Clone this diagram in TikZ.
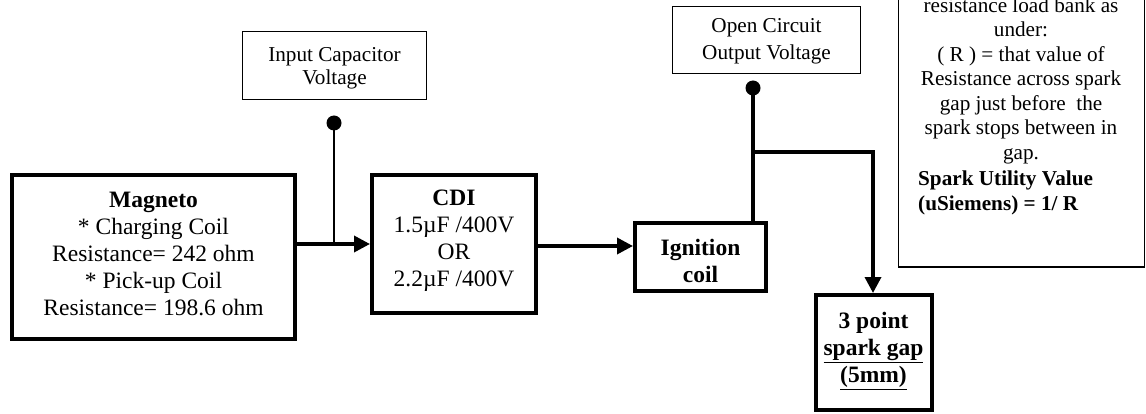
\documentclass[tikz,border=0pt]{standalone}
\usepackage{fontspec}
\setmainfont{Liberation Serif}
\usetikzlibrary{arrows.meta,calc}
\begin{document}
\begin{tikzpicture}[x=1pt,y=-1pt,
  bigtext/.style={font=\fontsize{23.5}{27}\selectfont},
  smalltext/.style={font=\fontsize{21.2}{24.5}\selectfont},
  thickbox/.style={draw,line width=4pt,inner sep=0pt},
  thinbox/.style={draw,line width=1.5pt,inner sep=0pt},
  txt/.style={inner sep=0pt,align=center},
  flow/.style={line width=3.5pt,-{Triangle[length=16pt,width=16pt]}},
  wire/.style={line width=3.5pt},
  thinwire/.style={line width=1.5pt},
  dotnode/.style={circle,fill,inner sep=0pt,minimum size=15pt}
]
\useasboundingbox (0,0) rectangle (1146,414);
% boxes
\node[thickbox,minimum width=283pt,minimum height=164pt] (mag) at (153.5,257) {};
\node[txt,bigtext] (magtxt) at (153.5,254) {\textbf{Magneto}\\* Charging Coil\\Resistance= 242 ohm\\* Pick-up Coil\\Resistance= 198.6 ohm};
\node[thickbox,minimum width=164pt,minimum height=138pt] (cdi) at (454,244) {};
\node[txt,bigtext] (cditxt) at (454,241) {\textbf{CDI}\\1.5µF /400V\\OR\\2.2µF /400V};
\node[thickbox,minimum width=131pt,minimum height=68pt] (ign) at (700.5,257) {};
\node[txt,bigtext] (igntxt) at (700.5,261) {\textbf{Ignition}\\\textbf{coil}};
\node[thickbox,minimum width=116pt,minimum height=115pt] (gap) at (873.5,352.5) {};
\node[txt,bigtext] (gaptxt) at (873.5,351) {\textbf{3 point}\\\textbf{\underline{spark gap}}\\\textbf{\underline{(5mm)}}};
\node[thinbox,minimum width=184pt,minimum height=68pt] (icv) at (334.5,65.5) {};
\node[txt,smalltext,font=\fontsize{21.2}{22.8}\selectfont] (icvtxt) at (334.5,68) {Input Capacitor\\Voltage};
\node[thinbox,minimum width=188pt,minimum height=67pt] (ocv) at (766.5,40) {};
\node[txt,smalltext,font=\fontsize{21.2}{26.5}\selectfont] (ocvtxt) at (766.5,41.5) {Open Circuit\\Output Voltage};
\node[thinbox,minimum width=246pt,minimum height=300pt] (note) at (1021.5,117) {};
\node[txt,smalltext] (notetxt) at (1021,80.5) {resistance load bank as\\under:\\( R ) = that value of\\Resistance across spark\\gap just before\ \ the\\spark stops between in\\gap.};
\node[txt,smalltext,align=left,anchor=west] (notebold) at (918,193) {\textbf{Spark Utility Value}\\\textbf{(uSiemens) = 1/ R}};
% dots
\node[dotnode] (d1) at (334,123) {};
\node[dotnode] (d2) at (753,88) {};
% connectors
\coordinate (j1) at (334,245);
\coordinate (j2) at (753,152);
\coordinate (j3) at (873,152);
\draw[flow] (mag.east |- cdi.west) -- (cdi.west);
\draw[thinwire] (j1) -- (d1.center);
\draw[flow] (cdi.east |- 0,246) -- (ign.west |- 0,246);
\draw[wire] (ign.north -| d2) -- (d2.center);
\draw[wire] (j2) -- (j3);
\draw[flow] ($(j3)+(0,-1.75)$) -- (gap.north -| j3);
\end{tikzpicture}
\end{document}
